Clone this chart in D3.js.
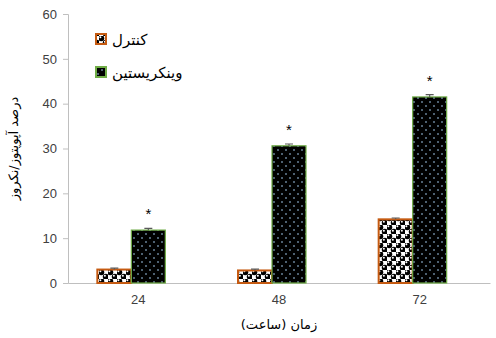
<!DOCTYPE html>
<html>
<head>
<meta charset="utf-8">
<script src="https://cdn.jsdelivr.net/npm/d3@7"></script>
<style>
  html, body { margin: 0; padding: 0; background: #fff; }
  svg { display: block; }
  text { font-family: "Liberation Sans", Arial, sans-serif; }
  .fa { font-family: "DejaVu Sans", sans-serif; }
</style>
</head>
<body>
<svg id="chart" width="496" height="338"></svg>
<script>
// Hours after treatment
const categories = ["24", "48", "72"];
// Apoptosis/necrosis percentage per group
const controlValues = [3.0, 2.8, 14.2];
const vincristineValues = [11.8, 30.6, 41.5];
// Standard errors
const controlErrors = [0.3, 0.3, 0.3];
const vincristineErrors = [0.4, 0.4, 0.5];
// Significance markers
const vincristineMarks = ["*", "*", "*"];
const seriesNames = ["کنترل", "وینکریستین"];
const yTicks = [0, 10, 20, 30, 40, 50, 60];

const svg = d3.select("#chart");
const margin = { left: 68, right: 6, top: 14, bottom: 55 };
const W = 496, H = 338;

const x = d3.scaleBand().domain(categories)
  .range([margin.left, W - margin.right]).paddingInner(0).paddingOuter(0);
const inner = d3.scaleBand().domain(["c", "v"]).range([0, 68]);
const groupOffset = (x.bandwidth() - 68) / 2 - 7;
const y = d3.scaleLinear().domain([0, 60]).range([H - margin.bottom, margin.top]);

// Fill patterns
const defs = svg.append("defs");
const pc = defs.append("pattern").attr("id", "pat-control")
  .attr("patternUnits", "userSpaceOnUse").attr("width", 9).attr("height", 9);
pc.append("rect").attr("width", 9).attr("height", 9).attr("fill", "#fff");
[[2.25, 2.25], [6.75, 6.75]].forEach(([cx, cy]) => {
  pc.append("circle").attr("cx", cx).attr("cy", cy).attr("r", 3).attr("fill", "#000");
  pc.append("circle").attr("cx", cx - 0.9).attr("cy", cy - 0.9).attr("r", 1).attr("fill", "#fff");
});

const pv = defs.append("pattern").attr("id", "pat-vinc")
  .attr("patternUnits", "userSpaceOnUse").attr("width", 8).attr("height", 8);
pv.append("rect").attr("width", 8).attr("height", 8).attr("fill", "#000");
[[2, 2], [6, 6]].forEach(([cx, cy]) => {
  pv.append("rect").attr("x", cx - 0.7).attr("y", cy - 0.7).attr("width", 1.4).attr("height", 1.4).attr("fill", "#9dc3e6");
});

// Axes
const yAxis = d3.axisLeft(y).tickValues(yTicks).tickSize(5).tickPadding(6);
const gy = svg.append("g").attr("transform", `translate(${margin.left},0)`).call(yAxis);
gy.select(".domain").attr("stroke", "#bfbfbf");
gy.selectAll(".tick line").attr("stroke", "#bfbfbf");
gy.selectAll(".tick text").attr("font-size", 13).attr("fill", "#404040");

const xAxis = d3.axisBottom(x).tickSize(0).tickPadding(12);
const gx = svg.append("g").attr("transform", `translate(0,${y(0)})`).call(xAxis);
gx.select(".domain").attr("stroke", "#bfbfbf");
gx.selectAll(".tick text").attr("font-size", 13).attr("fill", "#404040");

// Bars
const series = [
  { key: "c", values: controlValues, errors: controlErrors, fill: "url(#pat-control)", stroke: "#c55a11" },
  { key: "v", values: vincristineValues, errors: vincristineErrors, fill: "url(#pat-vinc)", stroke: "#70ad47" }
];
series.forEach(s => {
  const g = svg.append("g");
  g.selectAll("rect").data(categories).join("rect")
    .attr("x", (d) => x(d) + groupOffset + inner(s.key))
    .attr("y", (d, i) => y(s.values[i]))
    .attr("width", inner.bandwidth())
    .attr("height", (d, i) => y(0) - y(s.values[i]))
    .attr("fill", s.fill)
    .attr("stroke", s.stroke)
    .attr("stroke-width", s.key === "c" ? 2 : 1.2);
  // error caps
  g.selectAll("path.err").data(categories).join("path").attr("class", "err")
    .attr("d", (d, i) => {
      const cx = x(d) + groupOffset + inner(s.key) + inner.bandwidth() / 2;
      const y1 = y(s.values[i] + s.errors[i]);
      const y0 = y(s.values[i]);
      return `M${cx - 4},${y1}H${cx + 4}M${cx},${y1}V${y0}`;
    })
    .attr("stroke", "#595959").attr("stroke-width", 1.2).attr("fill", "none");
});

// Significance markers
svg.append("g").selectAll("text").data(categories).join("text")
  .attr("x", (d) => x(d) + groupOffset + inner("v") + inner.bandwidth() / 2)
  .attr("y", (d, i) => y(vincristineValues[i] + vincristineErrors[i]) - 9)
  .attr("text-anchor", "middle").attr("font-size", 15).attr("fill", "#000")
  .text((d, i) => vincristineMarks[i]);

// Legend
const legend = svg.append("g");
const lg = [
  { name: seriesNames[0], fill: "url(#pat-control)", stroke: "#c55a11", y: 40 },
  { name: seriesNames[1], fill: "url(#pat-vinc)", stroke: "#70ad47", y: 73 }
];
lg.forEach(d => {
  legend.append("rect").attr("x", 96).attr("y", d.y - 6).attr("width", 10).attr("height", 10)
    .attr("fill", d.fill).attr("stroke", d.stroke).attr("stroke-width", 2);
  legend.append("text").attr("class", "fa").attr("x", 112).attr("y", d.y + 5)
    .attr("font-size", 15).attr("fill", "#000").attr("direction", "rtl").attr("text-anchor", "end")
    .text(d.name);
});

// Axis titles
svg.append("text").attr("class", "fa")
  .attr("transform", `translate(18,${(y(0) + y(60)) / 2}) rotate(-90)`)
  .attr("text-anchor", "middle").attr("font-size", 13).attr("fill", "#000")
  .attr("direction", "rtl")
  .text("درصد آپوپتوز/نکروز");

svg.append("text").attr("class", "fa")
  .attr("x", (margin.left + W - margin.right) / 2).attr("y", 329)
  .attr("text-anchor", "middle").attr("font-size", 13).attr("fill", "#000")
  .attr("direction", "rtl")
  .text("زمان (ساعت)");
</script>
</body>
</html>
